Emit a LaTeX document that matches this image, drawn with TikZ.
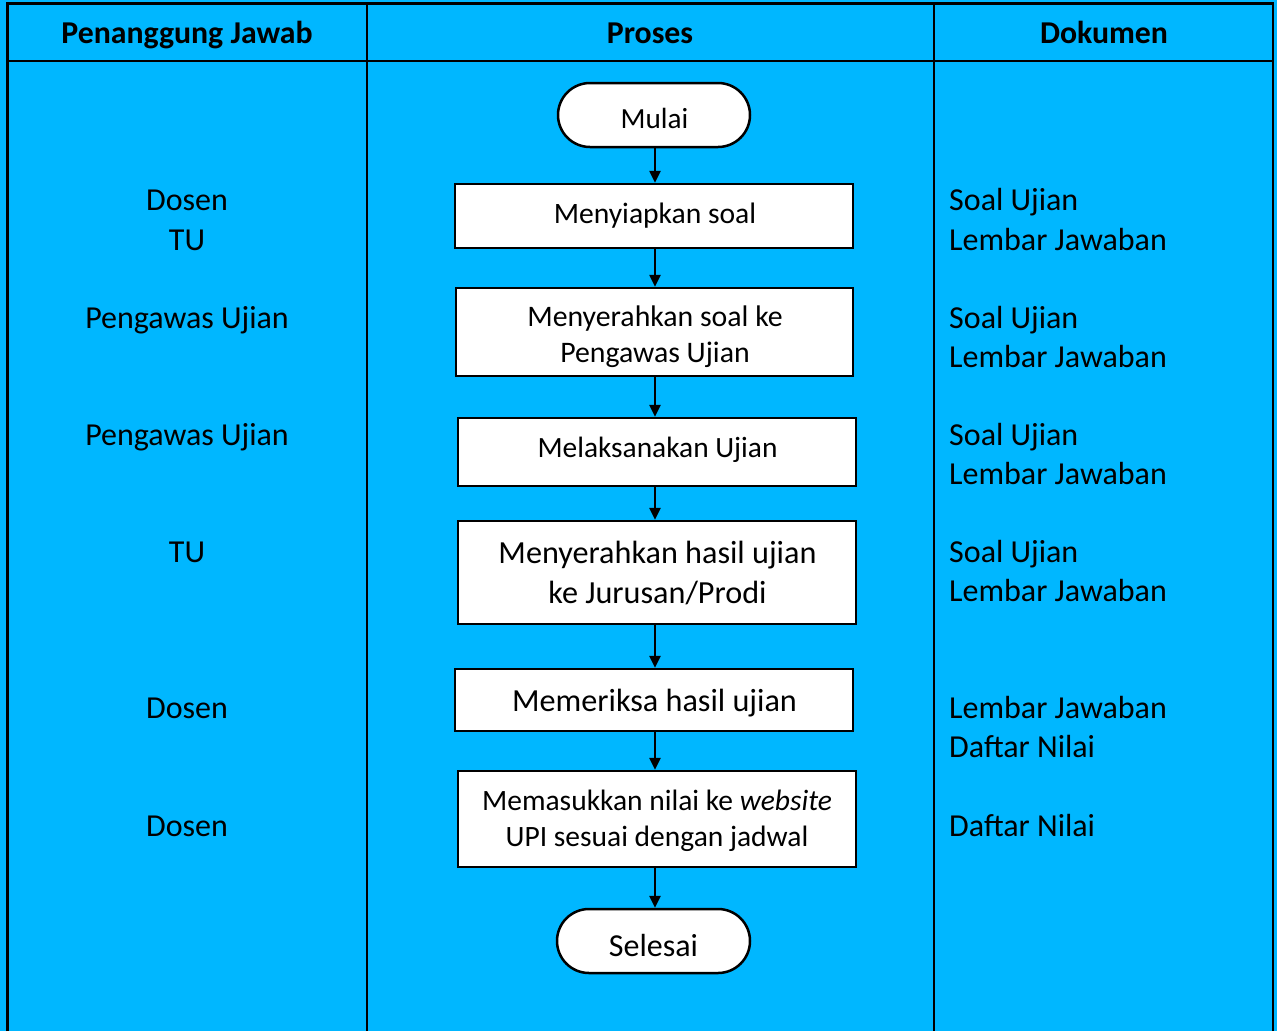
\documentclass[tikz,border=0pt]{standalone}
\usepackage{fontspec}
\setmainfont{Carlito}
\usetikzlibrary{arrows.meta}
\definecolor{bg}{RGB}{0,183,255}
\tikzset{
  proc/.style={draw=black, fill=white, line width=2.5pt, inner sep=0pt},
  term/.style={proc, rounded corners=32pt, minimum width=192pt, minimum height=64pt},
  grid/.style={line width=2.6pt, black},
  flow/.style={line width=2.5pt, -{Triangle[length=12pt,width=11pt]}},
  hdr/.style={font=\fontsize{31.8}{36}\selectfont\bfseries, inner sep=0pt, anchor=base},
  side/.style={font=\fontsize{32}{36}\selectfont, inner sep=0pt, anchor=base},
  doc/.style={side, anchor=base west},
  txt/.style={inner sep=0pt, anchor=base},
}
\begin{document}
\begin{tikzpicture}[x=1pt, y=-1pt]
\useasboundingbox (0,0) rectangle (1277,1031);
\fill[bg] (0,0) rectangle (1277,1031);
% table
\draw[grid] (7.5,1031) -- (7.5,3.5) -- (1273,3.5) -- (1273,1031);
\draw[grid] (7.5,61) -- (1273,61);
\draw[grid] (367,3.5) -- (367,1031);
\draw[grid] (934,3.5) -- (934,1031);
% headers
\node[hdr] (h1) at (187,43) {Penanggung Jawab};
\node[hdr] (h2) at (650,43) {Proses};
\node[hdr] (h3) at (1104,43) {Dokumen};
% process boxes
\node[term] (s0) at (654,115) {};
\node[proc, minimum width=398pt, minimum height=64pt] (s1) at (654,216) {};
\node[proc, minimum width=397pt, minimum height=88pt] (s2) at (654.5,332) {};
\node[proc, minimum width=398pt, minimum height=68pt] (s3) at (657,452) {};
\node[proc, minimum width=398pt, minimum height=103pt] (s4) at (657,572.5) {};
\node[proc, minimum width=398pt, minimum height=62pt] (s5) at (654,700) {};
\node[proc, minimum width=398pt, minimum height=96pt] (s6) at (657,819) {};
\node[term, minimum width=193pt] (s7) at (653.5,941) {};
% process texts
\node[txt, font=\fontsize{29.2}{34}\selectfont] (t0) at (654.5,128) {Mulai};
\node[txt, font=\fontsize{29.6}{34}\selectfont] (t1) at (655,223) {Menyiapkan soal};
\node[txt, font=\fontsize{29.8}{34}\selectfont] (t2a) at (655,326) {Menyerahkan soal ke};
\node[txt, font=\fontsize{29.8}{34}\selectfont] (t2b) at (655,362) {Pengawas Ujian};
\node[txt, font=\fontsize{29.4}{34}\selectfont] (t3) at (657.5,457.5) {Melaksanakan Ujian};
\node[txt, font=\fontsize{32.2}{36}\selectfont] (t4a) at (657.5,563) {Menyerahkan hasil ujian};
\node[txt, font=\fontsize{32.2}{36}\selectfont] (t4b) at (657.5,603) {ke Jurusan/Prodi};
\node[txt, font=\fontsize{32.2}{36}\selectfont] (t5) at (654.5,711.5) {Memeriksa hasil ujian};
\node[txt, font=\fontsize{29.5}{34}\selectfont] (t6a) at (657,810) {Memasukkan nilai ke \textit{website}};
\node[txt, font=\fontsize{29.5}{34}\selectfont] (t6b) at (657,846) {UPI sesuai dengan jadwal};
\node[txt, font=\fontsize{32}{36}\selectfont] (t7) at (653.5,956) {Selesai};
\foreach \a/\b in {s0/s1,s1/s2,s2/s3,s3/s4,s4/s5,s5/s6,s6/s7}
  \draw[flow] (\a.south -| 655,0) -- (\b.north -| 655,0);
% left column
\node[side] (l1a) at (187,210) {Dosen};
\node[side] (l1b) at (187,250) {TU};
\node[side] (l2) at (187,328.5) {Pengawas Ujian};
\node[side] (l3) at (187,445.5) {Pengawas Ujian};
\node[side] (l4) at (187,562.5) {TU};
\node[side] (l5) at (187,718.5) {Dosen};
\node[side] (l6) at (187,836.5) {Dosen};
% right column
\node[doc] (r1a) at (949,210) {Soal Ujian};
\node[doc] (r1b) at (949,250) {Lembar Jawaban};
\node[doc] (r2a) at (949,328.5) {Soal Ujian};
\node[doc] (r2b) at (949,367.5) {Lembar Jawaban};
\node[doc] (r3a) at (949,445.5) {Soal Ujian};
\node[doc] (r3b) at (949,484.5) {Lembar Jawaban};
\node[doc] (r4a) at (949,562.5) {Soal Ujian};
\node[doc] (r4b) at (949,601.5) {Lembar Jawaban};
\node[doc] (r5a) at (949,718.5) {Lembar Jawaban};
\node[doc] (r5b) at (949,757.5) {Daftar Nilai};
\node[doc] (r6) at (949,836.5) {Daftar Nilai};
\end{tikzpicture}
\end{document}
